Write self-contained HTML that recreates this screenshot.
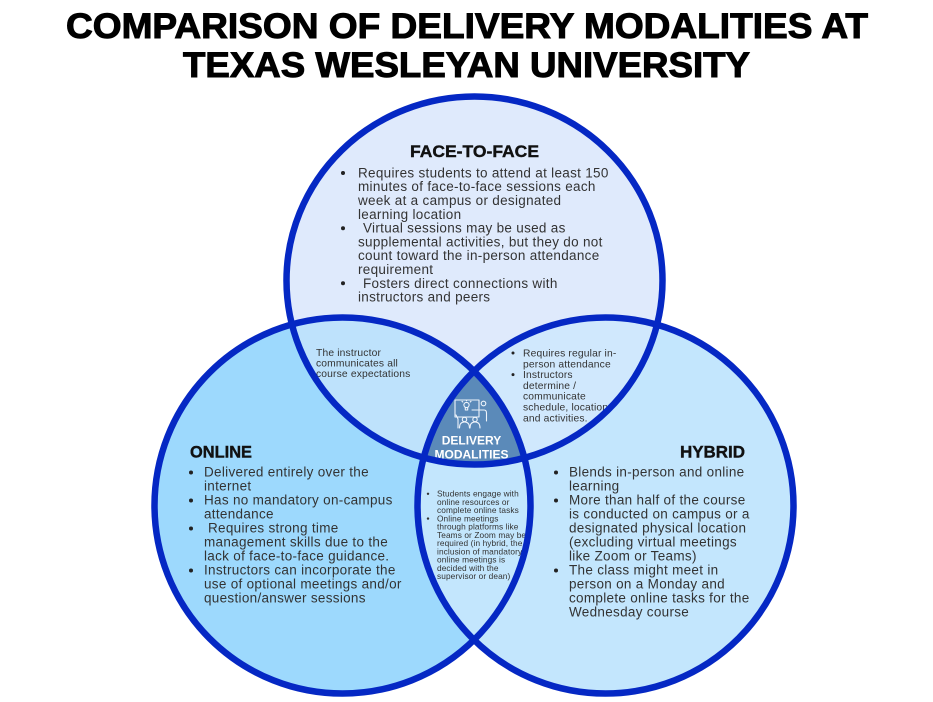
<!DOCTYPE html>
<html>
<head>
<meta charset="utf-8">
<style>
html,body{margin:0;padding:0;background:#fff;}
svg{display:block;}
.b{font-family:"Liberation Sans",sans-serif;fill:#333;}
.m{font-size:13.5px;letter-spacing:0.3px;}
.s{font-size:10.3px;letter-spacing:0.15px;}
.xs{font-size:8.3px;letter-spacing:0.1px;}
.h{font-family:"Liberation Sans",sans-serif;font-weight:bold;font-size:17px;fill:#111;stroke:#111;stroke-width:0.4;}
</style>
</head>
<body>
<svg width="933" height="702" viewBox="0 0 933 702" xmlns="http://www.w3.org/2000/svg">
<defs>
<clipPath id="cT"><ellipse cx="474.5" cy="280.5" rx="188" ry="184"/></clipPath>
<clipPath id="cL"><circle cx="342.5" cy="505.5" r="188"/></clipPath>
<clipPath id="cR"><circle cx="605.5" cy="505.5" r="188"/></clipPath>
</defs>

<!-- Title -->
<g font-family="Liberation Sans, sans-serif" font-weight="bold" font-size="35" fill="#000" stroke="#000" stroke-width="1">
<text x="66" y="38" textLength="802" lengthAdjust="spacingAndGlyphs">COMPARISON OF DELIVERY MODALITIES AT</text>
<text x="183" y="77" textLength="567" lengthAdjust="spacingAndGlyphs">TEXAS WESLEYAN UNIVERSITY</text>
</g>

<!-- fills -->
<ellipse cx="474.5" cy="280.5" rx="188" ry="184" fill="#dfeafc"/>
<circle cx="342.5" cy="505.5" r="188" fill="#9dd9fd"/>
<circle cx="605.5" cy="505.5" r="188" fill="#c3e6fd"/>
<g clip-path="url(#cT)"><circle cx="342.5" cy="505.5" r="188" fill="#bee2fc"/></g>
<g clip-path="url(#cT)"><circle cx="605.5" cy="505.5" r="188" fill="#d0e8fd"/></g>
<g clip-path="url(#cL)"><circle cx="605.5" cy="505.5" r="188" fill="#c3e6fd"/></g>
<g clip-path="url(#cL)"><g clip-path="url(#cT)"><circle cx="605.5" cy="505.5" r="188" fill="#5b8ab9"/></g></g>

<!-- FACE-TO-FACE -->
<text class="h" x="410" y="157" textLength="129" lengthAdjust="spacingAndGlyphs">FACE-TO-FACE</text>
<g fill="#222">
<circle cx="343" cy="173" r="2"/>
<circle cx="343" cy="228.3" r="2"/>
<circle cx="343" cy="283.3" r="2"/>
</g>
<g class="b m">
<text x="358" y="177.3">Requires students to attend at least 150</text>
<text x="358" y="191.1">minutes of face-to-face sessions each</text>
<text x="358" y="205">week at a campus or designated</text>
<text x="358" y="218.8">learning location</text>
<text x="363" y="232.7">Virtual sessions may be used as</text>
<text x="358" y="246.4">supplemental activities, but they do not</text>
<text x="358" y="260.2">count toward the in-person attendance</text>
<text x="358" y="274">requirement</text>
<text x="363" y="287.8">Fosters direct connections with</text>
<text x="358" y="301.7">instructors and peers</text>
</g>

<!-- Top-left overlap -->
<g class="b s">
<text x="316" y="356">The instructor</text>
<text x="316" y="366.5">communicates all</text>
<text x="316" y="377">course expectations</text>
</g>

<!-- Top-right overlap -->
<g fill="#222">
<circle cx="513" cy="353" r="1.5"/>
<circle cx="513" cy="374.6" r="1.5"/>
</g>
<g class="b s">
<text x="523" y="356.5">Requires regular in-</text>
<text x="523" y="367.3">person attendance</text>
<text x="523" y="378.1">Instructors</text>
<text x="523" y="388.9">determine /</text>
<text x="523" y="399.7">communicate</text>
<text x="523" y="410.5">schedule, location,</text>
<text x="523" y="421.3">and activities.</text>
</g>

<!-- Bottom lens -->
<g fill="#333">
<circle cx="428" cy="493.8" r="1.2"/>
<circle cx="428" cy="518.6" r="1.2"/>
</g>
<g class="b xs">
<text x="437" y="496.5">Students engage with</text>
<text x="437" y="504.8">online resources or</text>
<text x="437" y="513">complete online tasks</text>
<text x="437" y="521.3">Online meetings</text>
<text x="437" y="529.6">through platforms like</text>
<text x="437" y="537.9">Teams or Zoom may be</text>
<text x="437" y="546.1">required (in hybrid, the</text>
<text x="437" y="554.4">inclusion of mandatory</text>
<text x="437" y="562.7">online meetings is</text>
<text x="437" y="571">decided with the</text>
<text x="437" y="579.2">supervisor or dean)</text>
</g>

<!-- ONLINE -->
<text class="h" x="190" y="457.3" textLength="62" lengthAdjust="spacingAndGlyphs">ONLINE</text>
<g fill="#222">
<circle cx="191" cy="472.5" r="2"/>
<circle cx="191" cy="500.5" r="2"/>
<circle cx="191" cy="528.5" r="2"/>
<circle cx="191" cy="570.5" r="2"/>
</g>
<g class="b m">
<text x="204" y="476.7">Delivered entirely over the</text>
<text x="204" y="490.7">internet</text>
<text x="204" y="504.7">Has no mandatory on-campus</text>
<text x="204" y="518.7">attendance</text>
<text x="208" y="532.7">Requires strong time</text>
<text x="204" y="546.7">management skills due to the</text>
<text x="204" y="560.7">lack of face-to-face guidance.</text>
<text x="204" y="574.7">Instructors can incorporate the</text>
<text x="204" y="588.7">use of optional meetings and/or</text>
<text x="204" y="602.7">question/answer sessions</text>
</g>

<!-- HYBRID -->
<text class="h" x="680" y="457.3" textLength="65" lengthAdjust="spacingAndGlyphs">HYBRID</text>
<g fill="#222">
<circle cx="556" cy="472.5" r="2"/>
<circle cx="556" cy="500.5" r="2"/>
<circle cx="556" cy="570.5" r="2"/>
</g>
<g class="b m">
<text x="569" y="476.7">Blends in-person and online</text>
<text x="569" y="490.7">learning</text>
<text x="569" y="504.7">More than half of the course</text>
<text x="569" y="518.7">is conducted on campus or a</text>
<text x="569" y="532.7">designated physical location</text>
<text x="569" y="546.7">(excluding virtual meetings</text>
<text x="569" y="560.7">like Zoom or Teams)</text>
<text x="569" y="574.7">The class might meet in</text>
<text x="569" y="588.7">person on a Monday and</text>
<text x="569" y="602.7">complete online tasks for the</text>
<text x="569" y="616.7">Wednesday course</text>
</g>

<!-- Center icon -->
<g fill="none" stroke="#eef4fb" stroke-width="1.1" stroke-linecap="round" stroke-linejoin="round">
<rect x="455" y="400" width="24" height="17"/>
<circle cx="466.5" cy="405" r="2.6"/>
<path d="M465.3 407.5 v2.5 h2.4 v-2.5"/>
<path d="M466.5 400.8 v-0.8 M462.8 402 l-0.8-0.7 M470.2 402 l0.8-0.7"/>
<circle cx="483.5" cy="403.5" r="2.3"/>
<path d="M479 410 h5 q2.5 0 2.5 3 v5 M486.5 418 v3"/>
<path d="M472 410 l7 0"/>
<circle cx="464.5" cy="419.5" r="2.2"/>
<circle cx="475" cy="419.5" r="2.2"/>
<path d="M459.5 428 q0-6 5-6 q5 0 5 6"/>
<path d="M470 428 q0-6 5-6 q5 0 5 6"/>
<path d="M458 428 v-9 l-2-4"/>
</g>
<g font-family="Liberation Sans, sans-serif" font-weight="bold" font-size="12" fill="#fff" text-anchor="middle">
<text x="471.5" y="444.5">DELIVERY</text>
<text x="471.5" y="458.3">MODALITIES</text>
</g>

<!-- strokes -->
<g fill="none" stroke="#0528c4" stroke-width="6.5">
<ellipse cx="474.5" cy="280.5" rx="188" ry="184"/>
<circle cx="342.5" cy="505.5" r="188"/>
<circle cx="605.5" cy="505.5" r="188"/>
</g>
</svg>
</body>
</html>
